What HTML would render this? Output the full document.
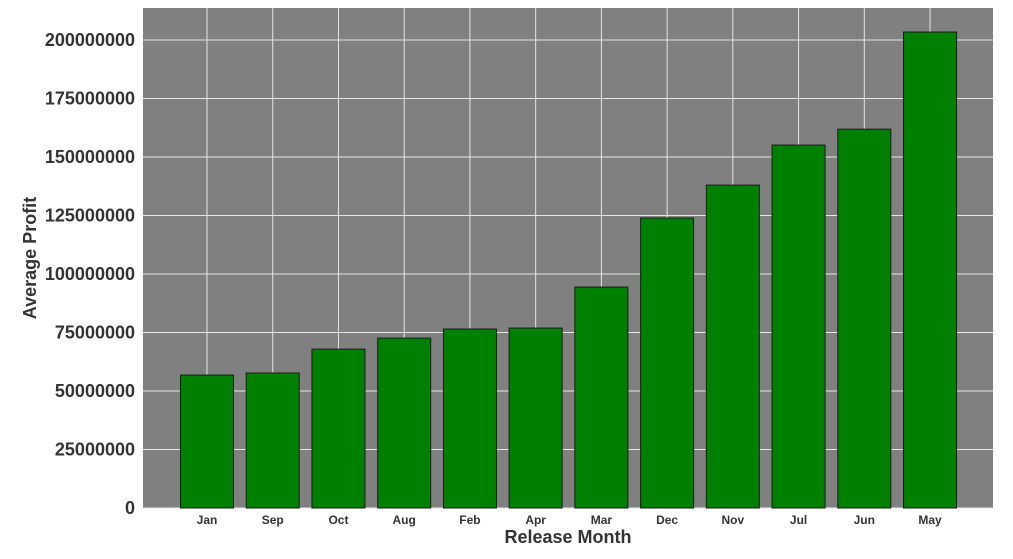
<!DOCTYPE html>
<html><head><meta charset="utf-8"><style>
body{margin:0;background:#fff;width:1013px;height:554px;overflow:hidden}
svg text{font-family:"Liberation Sans",sans-serif;font-weight:bold;fill:#333}
</style></head><body>
<svg id="c" width="1013" height="554"></svg>
<script>
const categories=["Jan","Sep","Oct","Aug","Feb","Apr","Mar","Dec","Nov","Jul","Jun","May"];
const values=[56800000,57700000,67900000,72600000,76500000,76900000,94400000,123900000,138000000,155100000,161900000,203400000];
const yTicks=[0,25000000,50000000,75000000,100000000,125000000,150000000,175000000,200000000];
const yTickLabels=["0","25000000","50000000","75000000","100000000","125000000","150000000","175000000","200000000"];
const NS="http://www.w3.org/2000/svg";
const svg=document.getElementById('c');
const L=143,R=993,T=8,B=508;
const y=v=>B-(v/200000000)*(B-40);
const x=i=>207+i*65.73;
const bw=53;
function mk(t,a){const e=document.createElementNS(NS,t);for(const k in a)e.setAttribute(k,a[k]);svg.appendChild(e);return e;}
const bg=mk('rect',{x:L,y:T,width:R-L,height:B-T,fill:'#808080'});


yTicks.forEach((v,i)=>{
  const g=mk('line',{x1:L,x2:R,y1:y(v),y2:y(v),stroke:'#e6e6e6','stroke-width':1});
  
  
  const t=mk('text',{x:135,y:y(v)+6,'text-anchor':'end','font-size':18});
  t.textContent=yTickLabels[i];
  
  
});
categories.forEach((c,i)=>{
  const g=mk('line',{x1:x(i),x2:x(i),y1:T,y2:B,stroke:'#e6e6e6','stroke-width':1});
  
  
});
categories.forEach((c,i)=>{
  const b=mk('rect',{x:x(i)-bw/2,y:y(values[i]),width:bw,height:B-y(values[i]),fill:'#008000',stroke:'#1a1a1a','stroke-width':1});
  
  
  const t=mk('text',{x:x(i),y:524,'text-anchor':'middle','font-size':12});
  t.textContent=c;
  
  
});
const xt=mk('text',{x:568,y:543,'text-anchor':'middle','font-size':18});
xt.textContent='Release Month';


const yt=mk('text',{x:36,y:258,'text-anchor':'middle','font-size':18,transform:'rotate(-90 36 258)'});
yt.textContent='Average Profit';


</script>
</body></html>
